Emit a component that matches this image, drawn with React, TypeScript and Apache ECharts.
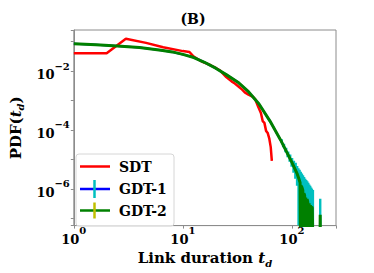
import React, { useEffect, useRef } from 'react';
import * as echarts from 'echarts';

// ---- data ----
const SDT_T = [1, 2, 3, 4.6, 6.6, 10, 11.5, 12.5, 15, 18, 20, 22, 23, 25, 28, 30, 33, 35, 37, 40, 44, 46, 49, 52, 54, 56, 58, 60, 62, 64, 65.5];
const SDT_Y = [0.0407, 0.0407, 0.127, 0.0912, 0.0646, 0.0479, 0.0447, 0.0316, 0.0209, 0.0158, 0.0129, 0.0105, 0.0087, 0.0063, 0.00447, 0.0038, 0.00282, 0.00234, 0.0019, 0.00158, 0.00132, 0.00112, 6.3e-4, 3.8e-4, 2.0e-4, 1.74e-4, 9.3e-5, 7.9e-5, 5.2e-5, 2.6e-5, 8.9e-6];

const GDT1_T = [1, 1.6, 2.5, 4, 6.3, 8, 10, 12.6, 15.8, 20, 25, 32, 40, 50, 63, 79, 100, 112];
const GDT1_Y = [0.085, 0.079, 0.072, 0.063, 0.051, 0.045, 0.037, 0.029, 0.020, 0.0126, 0.0076, 0.0042, 0.0020, 7.6e-4, 2.0e-4, 4.5e-5, 7.9e-6, 3.2e-6];

const GDT1_ERR_T = [80, 84, 88, 92, 96, 100, 104, 108, 112, 115, 118, 121, 124, 127, 130, 133, 136, 139, 142, 145, 148, 151, 154, 156, 182];
const GDT1_ERR_LO = [3.8e-5, 2.6e-5, 1.74e-5, 1.17e-5, 8.3e-6, 5.6e-6, 3.5e-6, 2.2e-6, 1.26e-6, 1e-8, 1e-8, 1e-8, 1e-8, 1e-8, 1e-8, 1e-8, 1e-8, 1e-8, 1e-8, 1e-8, 1e-8, 1e-8, 1e-8, 1e-8, 1e-8];
const GDT1_ERR_HI = [4.8e-5, 3.4e-5, 2.5e-5, 1.86e-5, 1.45e-5, 1.12e-5, 8.9e-6, 7.6e-6, 6.0e-6, 5.0e-6, 4.4e-6, 3.8e-6, 3.3e-6, 2.9e-6, 2.5e-6, 2.2e-6, 2.0e-6, 1.8e-6, 1.6e-6, 1.4e-6, 1.26e-6, 1.1e-6, 1.0e-6, 9e-7, 4.6e-7];

const GDT2_T = [1, 1.6, 2.5, 4, 6.3, 8, 10, 12.6, 15.8, 20, 25, 32, 40, 50, 63, 79, 100, 112, 116, 119, 120, 121, 124, 126, 128, 129, 131, 133, 134, 136, 138, 140, 142, 144, 146, 148, 150, 152, 154, 156, 181, 182, 183];
const GDT2_Y = [0.085, 0.079, 0.072, 0.063, 0.051, 0.045, 0.037, 0.029, 0.020, 0.0126, 0.0076, 0.0042, 0.0020, 7.6e-4, 2.0e-4, 4.5e-5, 7.9e-6, 3.2e-6, 2.2e-6, 1.6e-6, 1e-8, 1.3e-6, 1.1e-6, 9e-7, 1e-8, 7e-7, 6e-7, 1e-8, 5e-7, 1e-8, 4.5e-7, 3.5e-7, 1e-8, 3.2e-7, 1e-8, 2.8e-7, 1e-8, 2.5e-7, 2.2e-7, 1e-8, 1e-8, 1.3e-7, 1e-8];

const X_TICKS = [1, 10, 100];
const Y_TICKS = [1e-6, 1e-4, 1e-2];

const X_MIN = 1;
const X_MAX = 254;
const Y_MIN = 5.6e-8;
const Y_MAX = 0.25;

const RED = '#ff0000';
const BLUE = '#0000ff';
const GREEN = '#008000';
const CYAN = '#00bfbf';
const OLIVE = '#bfbf00';
const FONT = 'DejaVu Serif';

function near(v: number, list: number[]) {
  return list.some((t) => Math.abs(Math.log10(v) - Math.log10(t)) < 1e-6);
}

function sup(v: number) {
  const e = Math.round(Math.log10(v));
  const s = e < 0 ? '\u2212' + String(-e) : String(e);
  return '{b|10}{s|' + s + '}';
}

const tickRich = {
  b: { fontFamily: FONT, fontWeight: 'bold', fontSize: 13, color: '#000', lineHeight: 20, verticalAlign: 'bottom' },
  s: { fontFamily: FONT, fontWeight: 'bold', fontSize: 10, color: '#000', lineHeight: 10, verticalAlign: 'top' },
};

const nameRich = {
  a: { fontFamily: FONT, fontWeight: 'bold', fontSize: 15, color: '#000', lineHeight: 20, verticalAlign: 'middle' },
  t: { fontFamily: FONT, fontWeight: 'bold', fontStyle: 'italic', fontSize: 15, color: '#000', lineHeight: 20, verticalAlign: 'middle' },
  d: { fontFamily: FONT, fontWeight: 'bold', fontStyle: 'italic', fontSize: 10, color: '#000', lineHeight: 14, verticalAlign: 'bottom' },
};

const zip = (a: number[], b: number[]) => a.map((v, i) => [v, b[i]]);

export default function App() {
  const ref = useRef<HTMLDivElement>(null);

  useEffect(() => {
    if (!ref.current) return;
    const chart = echarts.init(ref.current, null, { renderer: 'svg' });

    const errData = GDT1_ERR_T.map((t, i) => [t, GDT1_ERR_LO[i], GDT1_ERR_HI[i]]);

    const option: any = {
      animation: false,
      backgroundColor: '#fff',
      title: {
        text: '(B)',
        left: 188,
        top: 7,
        textAlign: 'center',
        textStyle: { fontFamily: FONT, fontWeight: 'bold', fontSize: 14, color: '#000' },
      },
      grid: {
        left: 69,
        top: 30,
        right: 38,
        bottom: 41,
        show: true,
        borderColor: '#8c8c8c',
        borderWidth: 1,
        containLabel: false,
      },
      xAxis: {
        type: 'log',
        logBase: 10,
        min: X_MIN,
        max: X_MAX,
        name: '{a|Link duration }{t|t}{d|d}',
        nameLocation: 'middle',
        nameGap: 16,
        nameTextStyle: { rich: nameRich },
        axisLine: { show: true, lineStyle: { color: '#8c8c8c', width: 1 } },
        axisTick: { show: true, length: 3, lineStyle: { color: '#8c8c8c' } },
        splitLine: { show: false },
        axisLabel: {
          margin: 0,
          formatter: (v: number) => (near(v, X_TICKS) ? sup(v) : ''),
          rich: tickRich,
        },
      },
      yAxis: {
        type: 'log',
        logBase: 10,
        min: Y_MIN,
        max: Y_MAX,
        name: '{a|PDF(}{t|t}{d|d}{a|)}',
        nameLocation: 'middle',
        nameGap: 36,
        nameTextStyle: { rich: nameRich },
        axisLine: { show: true, lineStyle: { color: '#8c8c8c', width: 1 } },
        axisTick: { show: true, length: 3, lineStyle: { color: '#8c8c8c' } },
        splitLine: { show: false },
        axisLabel: {
          margin: 4,
          formatter: (v: number) => (near(v, Y_TICKS) ? sup(v) : ''),
          rich: tickRich,
        },
      },
      series: [
        {
          name: 'SDT',
          type: 'line',
          data: zip(SDT_T, SDT_Y),
          symbol: 'none',
          clip: true,
          lineStyle: { color: RED, width: 2.5 },
          z: 2,
        },
        {
          name: 'GDT-1',
          type: 'line',
          data: zip(GDT1_T, GDT1_Y),
          symbol: 'none',
          clip: true,
          lineStyle: { color: BLUE, width: 2 },
          z: 2,
        },
        {
          name: 'GDT-1 error',
          type: 'custom',
          data: errData,
          encode: { x: 0, y: [1, 2] },
          clip: true,
          z: 2,
          renderItem: (params: any, api: any) => {
            const i = params.dataIndex;
            const t = api.value(0);
            const lo = api.value(1);
            const hi = api.value(2);
            const top = api.coord([t, hi]);
            const bot = api.coord([t, lo]);
            const cs = params.coordSys;
            const half = (j: number) => {
              if (j < 0 || j >= GDT1_ERR_T.length) return 1.2;
              const x = api.coord([GDT1_ERR_T[j], hi])[0];
              const d = Math.abs(x - top[0]);
              return d < 7 ? d / 2 + 0.5 : 1.2;
            };
            const hl = half(i - 1);
            const hr = half(i + 1);
            const y1 = Math.max(top[1], cs.y);
            const y2 = Math.min(bot[1], cs.y + cs.height);
            return {
              type: 'rect',
              shape: { x: top[0] - hl, y: y1, width: hl + hr, height: Math.max(0, y2 - y1) },
              style: { fill: CYAN },
            };
          },
        },
        {
          name: 'GDT-2',
          type: 'line',
          data: zip(GDT2_T, GDT2_Y),
          symbol: 'none',
          clip: true,
          lineStyle: { color: GREEN, width: 3 },
          z: 3,
        },
      ],
      graphic: [
        {
          type: 'rect',
          z: 100,
          shape: { x: 76, y: 154, width: 98, height: 72, r: 3 },
          style: { fill: 'rgba(255,255,255,0.8)', stroke: '#d6d6d6', lineWidth: 1 },
        },
        { type: 'line', z: 101, shape: { x1: 80, y1: 166.5, x2: 110, y2: 166.5 }, style: { stroke: RED, lineWidth: 2.5 } },
        { type: 'line', z: 101, shape: { x1: 80, y1: 189, x2: 110, y2: 189 }, style: { stroke: BLUE, lineWidth: 2.5 } },
        { type: 'line', z: 102, shape: { x1: 94.5, y1: 180, x2: 94.5, y2: 198 }, style: { stroke: CYAN, lineWidth: 2.5 } },
        { type: 'line', z: 101, shape: { x1: 80, y1: 210.5, x2: 110, y2: 210.5 }, style: { stroke: GREEN, lineWidth: 2.5 } },
        { type: 'line', z: 102, shape: { x1: 94.5, y1: 202.5, x2: 94.5, y2: 218.5 }, style: { stroke: OLIVE, lineWidth: 2.5 } },
        {
          type: 'text', z: 103, x: 119, y: 166.5,
          style: { text: 'SDT', fill: '#000', fontFamily: FONT, fontWeight: 'bold', fontSize: 14, verticalAlign: 'middle', align: 'left' },
        },
        {
          type: 'text', z: 103, x: 119, y: 189,
          style: { text: 'GDT-1', fill: '#000', fontFamily: FONT, fontWeight: 'bold', fontSize: 14, verticalAlign: 'middle', align: 'left' },
        },
        {
          type: 'text', z: 103, x: 119, y: 210.5,
          style: { text: 'GDT-2', fill: '#000', fontFamily: FONT, fontWeight: 'bold', fontSize: 14, verticalAlign: 'middle', align: 'left' },
        },
      ],
    };

    chart.setOption(option);
    return () => chart.dispose();
  }, []);

  return <div ref={ref} style={{ position: 'fixed', left: 0, top: 0, width: 374, height: 273 }} />;
}
